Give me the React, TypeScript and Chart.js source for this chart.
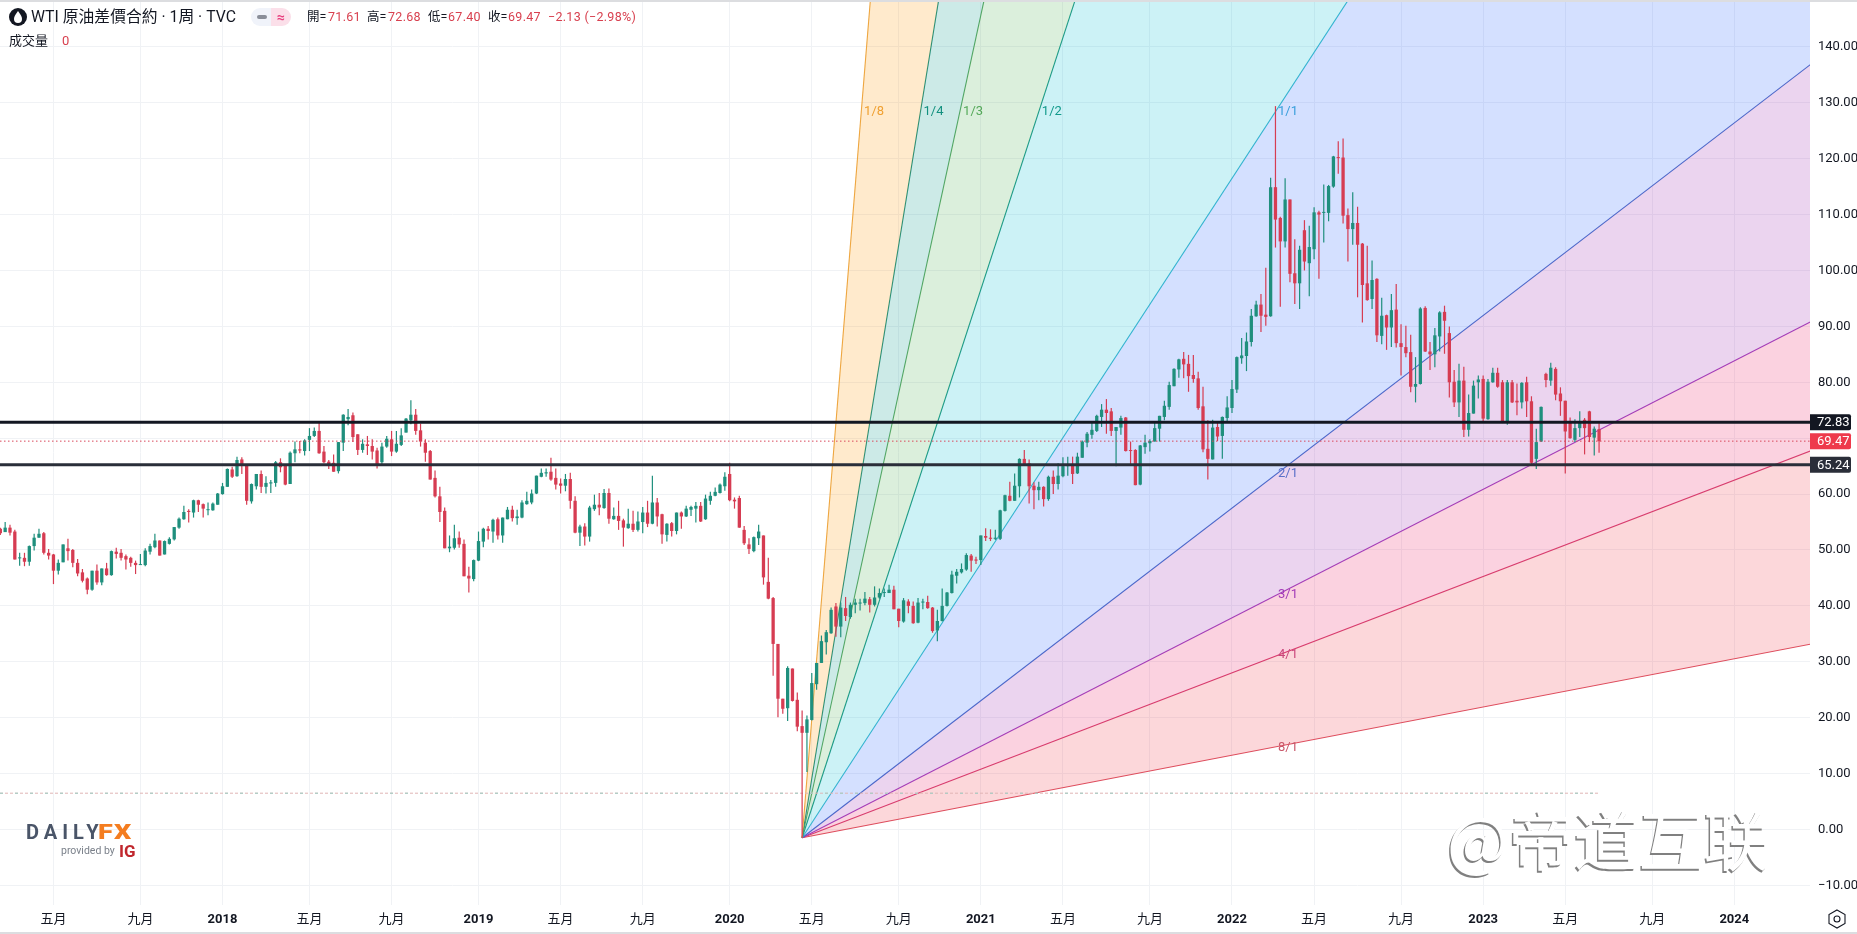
import React, { useEffect, useRef } from "react";
import { Chart, registerables } from "chart.js";

Chart.register(...registerables);

const weekOpen = [
53.8,53.2,54.0,53.3,48.5,48.6,47.9,50.7,52.2,53.0,
49.5,49.2,46.3,47.8,50.3,50.0,47.7,46.0,44.9,42.9,
46.3,44.2,46.7,45.5,49.7,49.5,48.9,48.6,47.7,47.3,
47.3,49.7,50.5,51.7,49.2,51.1,51.9,54.0,55.5,57.0,
56.7,58.9,58.2,57.3,57.1,58.1,60.0,61.3,64.4,63.2,
66.2,65.2,58.7,61.4,63.6,61.3,61.9,62.0,65.7,65.1,
61.8,67.3,68.0,67.7,69.7,70.4,71.3,67.6,65.8,65.6,
64.1,69.2,73.4,74.1,70.7,67.9,68.9,68.6,67.8,65.7,
68.5,69.8,67.6,68.8,71.0,73.2,74.2,71.4,69.2,67.7,
62.9,59.6,57.0,50.3,50.4,52.2,51.1,45.4,44.8,48.1,
51.5,53.8,53.3,55.5,52.6,55.5,57.2,55.7,55.8,58.2,
58.5,60.1,63.1,63.7,64.0,62.9,61.9,61.5,62.7,58.8,
53.1,54.2,52.4,57.3,58.1,57.5,60.2,55.5,56.1,55.3,
53.9,54.7,53.6,55.0,56.7,54.7,58.5,56.4,52.7,54.8,
53.4,56.7,56.0,57.2,57.4,57.9,55.5,58.8,59.7,60.2,
61.4,63.6,59.0,59.3,53.6,51.0,49.8,52.1,52.6,44.3,
41.4,33.2,23.4,21.7,28.8,23.2,18.5,17.3,19.6,26.0,
29.8,33.5,35.1,39.9,36.3,39.6,38.0,40.2,40.6,40.5,
41.2,40.2,41.5,42.3,42.3,42.9,39.5,37.2,40.8,40.0,
37.0,40.6,40.7,39.7,35.6,37.3,40.0,42.3,45.4,46.0,
46.5,49.0,48.3,48.2,52.5,52.2,52.0,52.0,57.0,59.7,
58.8,61.4,66.3,65.5,61.5,60.7,61.3,59.1,63.1,61.8,
63.2,65.0,65.4,63.7,66.5,69.2,70.6,71.3,73.8,75.1,
74.8,71.3,71.9,73.7,67.8,67.9,61.7,68.4,69.1,69.4,
71.7,73.8,75.6,79.3,82.3,84.2,83.3,81.3,80.7,75.7,
68.1,66.2,72.0,70.4,73.6,75.4,78.7,84.3,84.7,87.2,
91.8,93.9,92.1,91.8,114.9,109.4,105.2,112.7,99.5,97.7,
107.2,101.3,103.8,110.4,110.3,110.3,115.0,120.2,120.2,109.9,
107.4,108.5,104.8,97.7,94.9,98.5,88.3,92.0,89.8,93.0,
87.0,86.3,85.4,79.2,79.7,93.3,85.5,85.0,88.2,92.6,
88.8,80.1,76.4,80.3,71.5,74.4,80.0,80.6,73.4,80.0,
81.7,80.0,73.0,80.0,76.7,76.4,80.0,76.6,66.3,69.4,
81.5,80.3,82.4,78.0,76.7,73.0,69.7,71.8,73.3,74.8,70.1,71.61,
];

const weekHigh = [
54.0,55.0,54.5,53.6,49.5,49.5,50.8,52.9,53.8,53.2,
50.2,49.3,48.3,51.0,52.0,50.2,48.4,46.6,45.1,46.3,
47.4,46.7,47.7,49.9,50.4,50.2,49.2,48.8,48.1,49.3,
50.3,51.1,52.9,51.7,51.7,52.3,54.1,55.8,57.9,57.3,
59.0,59.0,58.3,58.5,58.5,60.2,62.0,64.6,64.9,66.7,
66.6,65.4,61.9,63.6,64.2,63.2,62.5,65.9,66.4,65.4,
67.6,69.4,69.5,69.8,71.8,71.9,72.9,68.6,66.1,67.1,
69.3,74.3,75.2,74.6,70.7,69.8,70.4,69.8,68.3,69.2,
70.4,71.3,71.3,71.8,73.6,76.8,75.2,72.6,69.8,67.9,
64.2,61.3,57.6,52.6,54.5,53.3,51.9,47.0,48.3,53.3,
54.0,54.3,55.6,55.8,55.8,57.7,57.9,57.2,58.9,60.4,
60.8,63.3,64.6,64.6,66.5,64.6,62.8,63.6,63.8,59.6,
54.5,54.8,57.9,59.9,60.2,60.9,61.0,57.6,58.8,55.6,
57.4,57.0,56.9,57.7,58.8,63.3,59.3,56.5,54.8,55.0,
56.7,56.9,57.9,57.9,58.6,58.6,59.9,60.4,61.2,61.9,
63.9,65.6,59.4,59.7,54.3,52.1,52.4,54.5,52.6,48.6,
41.6,33.2,23.4,29.2,28.8,24.5,21.3,20.4,28.0,29.8,
34.7,35.7,39.7,40.5,40.6,41.6,40.6,41.3,41.3,42.5,
41.6,43.5,43.1,43.1,43.8,43.6,39.5,41.4,41.2,40.8,
41.4,41.3,41.8,39.8,39.3,43.1,42.5,46.3,46.6,47.6,
49.4,49.3,48.8,52.6,53.9,53.7,53.6,57.2,59.9,62.2,
63.7,66.4,67.9,66.2,62.1,62.2,61.4,63.3,64.2,65.5,
66.6,66.7,66.7,67.4,69.6,71.1,72.8,74.2,76.1,77.0,
75.4,72.0,74.0,73.8,69.4,68.0,68.8,70.6,69.8,73.0,
74.0,76.7,80.1,82.5,84.2,85.4,84.9,84.9,81.9,79.2,
73.2,73.3,72.9,73.9,77.5,80.4,84.6,87.9,88.9,93.1,
94.6,95.8,100.5,116.6,129.4,109.6,116.5,112.7,105.6,104.4,
109.0,108.0,111.3,110.7,115.4,115.3,120.5,123.1,123.6,111.1,
114.0,111.4,104.9,104.4,101.8,98.6,95.1,92.1,95.8,97.6,
90.4,90.1,88.5,84.5,93.4,93.6,87.2,89.7,92.7,93.7,
90.0,82.2,83.3,82.8,77.8,80.3,81.2,81.2,80.6,82.6,
82.6,80.4,80.4,80.4,79.8,80.0,81.0,77.5,71.7,75.65,
81.7,83.5,82.7,79.1,76.7,73.7,73.4,74.8,73.6,74.9,72.1,72.68,
];

const weekLow = [
52.7,53.2,52.6,48.3,47.2,47.1,47.2,49.9,52.2,49.2,
48.3,43.9,45.6,47.8,48.1,46.9,45.3,44.2,42.1,42.7,
43.8,43.7,45.4,45.4,48.5,48.1,46.5,47.0,45.7,47.3,
47.1,49.2,50.3,49.0,49.2,51.0,51.7,53.8,55.4,54.9,
55.8,56.8,55.8,56.2,57.0,58.1,59.9,61.3,62.9,63.1,
63.6,58.1,58.3,60.8,60.2,60.1,60.2,61.3,63.9,61.6,
61.8,65.7,67.3,66.9,67.7,70.2,67.2,65.5,64.5,64.0,
63.7,67.7,72.3,69.3,67.0,67.4,67.0,66.2,64.6,65.4,
68.3,66.8,67.4,68.6,71.0,72.5,70.6,68.5,65.8,62.6,
59.4,55.0,50.3,49.6,50.1,50.4,45.3,42.4,44.4,48.0,
50.5,51.9,51.3,51.9,51.3,55.5,55.1,54.5,55.7,58.1,
58.2,60.0,63.0,63.1,62.4,60.8,60.1,60.5,57.4,53.0,
50.7,50.8,51.5,57.0,56.2,57.4,54.7,55.4,53.6,50.6,
53.8,53.2,53.3,53.0,54.1,54.6,54.2,51.1,51.5,52.4,
52.8,53.8,55.9,56.1,54.9,55.0,55.4,58.1,59.6,60.1,
60.6,58.7,57.4,54.0,50.9,49.3,49.6,50.9,43.8,41.2,
27.5,20.1,20.7,19.4,22.9,17.6,-1.47,10.3,19.5,25.0,
29.8,31.3,35.0,34.5,34.4,37.3,37.7,38.7,39.2,40.1,
38.8,39.9,41.3,41.6,42.3,39.4,36.2,37.0,38.7,36.8,
36.9,39.4,39.5,35.2,33.7,37.2,39.9,42.2,44.0,45.8,
46.3,46.1,47.5,47.3,51.6,51.6,51.8,51.8,56.9,58.7,
58.8,59.4,65.1,58.3,57.3,58.9,57.8,58.8,60.0,60.8,
63.0,63.3,61.8,63.6,66.5,68.4,69.9,71.1,72.0,70.8,
70.4,65.0,70.6,67.6,65.2,61.6,61.6,67.2,67.6,69.4,
69.4,73.2,75.1,79.3,80.8,80.7,78.3,79.9,75.1,67.5,
62.6,66.2,69.5,66.3,72.9,74.5,78.1,83.3,82.0,86.4,
91.7,89.0,90.1,91.7,104.1,93.5,104.1,97.9,94.0,93.1,
100.0,95.4,102.0,98.5,105.0,108.8,114.8,117.3,108.4,101.6,
104.6,95.2,90.7,94.6,93.1,87.2,86.8,85.8,86.3,86.2,
81.2,84.5,78.2,76.4,79.6,85.4,82.2,82.7,85.5,85.1,
77.3,75.6,73.8,70.2,70.3,74.4,77.1,72.7,73.3,79.9,
79.0,72.7,72.4,76.3,74.1,75.3,73.8,65.3,64.5,69.3,
79.1,79.4,76.8,74.0,63.7,69.9,69.3,70.2,67.1,69.3,66.9,67.40,
];

const weekClose = [
53.0,54.0,53.1,48.3,48.6,47.9,50.7,52.2,52.9,49.5,
49.0,46.3,47.7,51.0,49.8,47.7,45.8,44.5,42.9,46.3,
44.2,46.7,45.5,49.8,49.3,48.6,48.3,47.7,47.3,47.4,
49.9,50.7,51.7,49.0,51.6,52.0,54.1,55.6,56.8,56.8,
58.9,58.1,57.4,57.3,58.3,60.1,61.4,64.5,63.1,66.1,
65.2,58.8,61.8,63.6,61.3,62.0,62.1,65.7,64.8,61.7,
67.4,68.0,67.8,69.6,70.4,71.3,67.3,65.7,65.1,64.0,
69.3,74.2,73.8,70.2,67.9,69.0,68.6,67.6,65.2,68.5,
69.9,67.6,69.0,70.5,73.5,74.2,71.3,69.4,67.4,62.6,
59.6,56.8,50.3,50.6,52.1,51.0,45.3,44.9,48.2,51.6,
53.8,53.4,55.4,52.6,55.8,57.2,55.7,56.0,58.5,58.8,
60.1,63.3,63.8,63.9,62.6,61.7,61.5,62.7,58.8,53.1,
54.2,52.4,57.6,58.1,57.6,60.2,55.6,56.1,55.2,54.0,
54.7,53.6,55.1,56.7,54.7,58.5,56.0,52.8,54.7,53.4,
56.7,56.0,57.4,57.7,57.9,55.1,59.2,59.7,60.4,61.7,
63.1,58.9,58.7,54.0,51.2,50.2,52.3,53.3,45.1,41.3,
33.2,23.4,21.6,28.9,23.0,18.4,17.3,19.7,26.2,29.8,
33.7,35.3,39.3,36.3,39.7,38.2,40.2,40.6,40.6,41.3,
40.2,41.5,42.3,42.4,42.9,39.4,37.3,41.0,40.0,36.9,
40.6,40.7,39.6,35.5,37.3,40.0,42.4,45.6,46.1,46.6,
49.1,48.1,48.1,52.6,52.2,52.0,52.2,57.1,59.8,58.8,
61.5,66.3,65.2,61.4,60.7,61.3,59.1,63.1,61.8,63.3,
65.0,65.2,63.6,66.7,69.4,70.8,71.5,74.0,75.1,74.5,
71.3,72.0,73.6,67.7,67.7,61.6,68.7,69.2,69.5,71.8,
74.0,75.8,79.5,82.4,84.1,83.2,81.1,80.6,75.4,68.0,
66.3,71.9,70.3,73.8,75.5,78.8,84.5,84.8,87.3,91.9,
93.9,91.9,91.7,114.9,109.1,105.2,112.7,99.4,97.7,103.7,
101.6,104.2,110.4,110.0,110.4,115.1,120.4,120.1,109.8,107.4,
108.5,104.6,97.4,94.7,98.3,88.4,91.9,89.8,92.9,87.0,
86.3,85.2,79.2,79.7,93.2,85.5,85.0,88.4,92.5,91.0,
80.0,76.4,80.3,71.5,74.5,79.4,80.5,73.5,80.1,81.7,
79.2,72.9,80.0,76.4,76.4,79.9,76.6,65.6,69.3,75.6,
80.4,82.6,77.8,76.6,71.2,70.0,71.8,72.9,71.8,70.2,71.7,69.47,
];

const timeTickWeeks = [11, 29, 46, 64, 81, 99, 116, 133, 151, 168, 186, 203, 220, 238, 255, 272, 290, 307, 324, 342, 359];
const timeTickLabels = ["五月", "九月", "2018", "五月", "九月", "2019", "五月", "九月", "2020", "五月", "九月", "2021", "五月", "九月", "2022", "五月", "九月", "2023", "五月", "九月", "2024"];
const priceTicks = [-10, 0, 10, 20, 30, 40, 50, 60, 70, 80, 90, 100, 110, 120, 130, 140];
const priceTicksHiddenLabel = [70];

const weekMin = -0.068;
const weekMax = 374.67;
const priceMin = -13.5;
const priceMax = 148.38;

const fanOriginWeek = 166;
const fanOriginPrice = -1.47;
const fanEndWeek = 375;
const fanNames = ["1/8", "1/4", "1/3", "1/2", "1/1", "2/1", "3/1", "4/1", "8/1"];
const fanEndPrices = [2214.5, 1106.6, 829.6, 552.5, 275.5, 137.0, 90.9, 67.8, 33.2];
const fanLineColors = ["#eea63f", "#1b8f7e", "#5aa860", "#1a9a8d", "#38b2cf", "#5068c4", "#a640b8", "#d6406f", "#dc5060"];
const fanFillColors = ["rgba(255,152,0,0.2)", "rgba(0,150,136,0.2)", "rgba(76,175,80,0.2)", "rgba(0,188,212,0.2)", "rgba(41,98,255,0.2)", "rgba(156,39,176,0.2)", "rgba(233,30,99,0.2)", "rgba(242,54,69,0.2)"];
const fanLabelColors = ["#f0a030", "#12907f", "#55a95a", "#129a8c", "#3a9fdc", "#5b6fc8", "#a33bb8", "#c9487c", "#c9586a"];
const fanLabelWeeks = [180.9, 193.2, 201.4, 217.7, 266.6, 266.6, 266.6, 266.6, 266.6];
const fanLabelPrices = [128.4, 128.4, 128.4, 128.4, 128.4, 63.6, 42.0, 31.2, 14.6];

const levelUpper = 72.83;
const levelLower = 65.24;
const lastPrice = 69.47;
const volumeLinePrice = 6.5;
const volumeLineEndWeek = 331;

const priceTags = [
  { value: levelUpper, color: "#131722" },
  { value: lastPrice, color: "#ee3a4c" },
  { value: levelLower, color: "#2a2e39" },
];

const UP = "#1f8f7d";
const DOWN = "#d63c52";
const FONT = 'Roboto, "Noto Sans CJK TC", sans-serif';

const tagsPlugin = {
  id: "fanAndTags",
  afterDatasetsDraw(chart: any) {
    const { ctx, scales } = chart;
    ctx.save();
    ctx.font = `13px ${FONT}`;
    ctx.textAlign = "center";
    ctx.textBaseline = "middle";
    fanNames.forEach((name, i) => {
      ctx.fillStyle = fanLabelColors[i];
      ctx.fillText(name, scales.x.getPixelForValue(fanLabelWeeks[i]), scales.y.getPixelForValue(fanLabelPrices[i]));
    });
    ctx.restore();
  },
  afterDraw(chart: any) {
    const { ctx, scales, chartArea } = chart;
    ctx.save();
    priceTags.forEach((tag) => {
      const y = scales.y.getPixelForValue(tag.value);
      ctx.fillStyle = tag.color;
      ctx.beginPath();
      ctx.roundRect(chartArea.right, y - 8, 41, 16, [0, 2, 2, 0]);
      ctx.fill();
      ctx.fillStyle = "#ffffff";
      ctx.font = `13px ${FONT}`;
      ctx.textAlign = "left";
      ctx.textBaseline = "middle";
      ctx.fillText(tag.value.toFixed(2), chartArea.right + 7, y + 0.5);
    });
    ctx.restore();
  },
};

function flat(week0: number, week1: number, value: number) {
  return [
    { x: week0, y: value },
    { x: week1, y: value },
  ];
}

const abs = (style: React.CSSProperties): React.CSSProperties => ({ position: "absolute", whiteSpace: "nowrap", ...style });

export default function App() {
  const ref = useRef<HTMLCanvasElement>(null);

  useEffect(() => {
    document.body.style.margin = "0";
    document.body.style.background = "#ffffff";
    document.body.style.overflow = "hidden";
    const colors = weekClose.map((c, i) => (c >= weekOpen[i] ? UP : DOWN));

    const fanDatasets = fanNames.map((name, i) => ({
      type: "line" as const,
      label: name,
      data: [
        { x: fanOriginWeek, y: fanOriginPrice },
        { x: fanEndWeek, y: fanEndPrices[i] },
      ],
      borderColor: fanLineColors[i],
      borderWidth: 1.1,
      pointRadius: 0,
      tension: 0,
      fill: i < fanNames.length - 1 ? "+1" : false,
      backgroundColor: fanFillColors[i] ?? "transparent",
      order: 7,
    }));

    const chart = new Chart(ref.current!, {
      type: "bar",
      data: {
        datasets: [
          ...fanDatasets,
          {
            type: "bar",
            label: "wick",
            data: weekLow.map((l, i) => ({ x: i, y: [l, weekHigh[i]] })),
            backgroundColor: colors,
            barThickness: 1.2,
            grouped: false,
            inflateAmount: 0,
            order: 4,
          },
          {
            type: "bar",
            label: "body",
            data: weekOpen.map((o, i) => ({ x: i, y: [o, weekClose[i]] })),
            backgroundColor: colors,
            barThickness: 3.3,
            grouped: false,
            minBarLength: 1,
            inflateAmount: 0,
            order: 3,
          },
          {
            type: "line",
            label: "volume-a",
            data: flat(weekMin, volumeLineEndWeek, volumeLinePrice),
            borderColor: "#e0b4b4",
            borderWidth: 1,
            borderDash: [3, 2],
            pointRadius: 0,
            order: 6,
          },
          {
            type: "line",
            label: "volume-b",
            data: flat(weekMin, volumeLineEndWeek, volumeLinePrice),
            borderColor: "#9ccfc6",
            borderWidth: 1,
            borderDash: [3, 12],
            pointRadius: 0,
            order: 5,
          },
          {
            type: "line",
            label: "last",
            data: flat(weekMin, weekMax, lastPrice),
            borderColor: "#d9485a",
            borderWidth: 1,
            borderDash: [1.5, 2.5],
            pointRadius: 0,
            order: 1,
          },
          {
            type: "line",
            label: "upper",
            data: flat(weekMin, weekMax, levelUpper),
            borderColor: "#131722",
            borderWidth: 3,
            pointRadius: 0,
            order: 0,
          },
          {
            type: "line",
            label: "lower",
            data: flat(weekMin, weekMax, levelLower),
            borderColor: "#2a2e39",
            borderWidth: 3,
            pointRadius: 0,
            order: 0,
          },
        ] as any,
      },
      options: {
        responsive: false,
        animation: false,
        events: [],
        layout: { padding: 0 },
        plugins: {
          legend: { display: false },
          tooltip: { enabled: false },
          filler: { drawTime: "beforeDatasetDraw" },
        } as any,
        scales: {
          x: {
            type: "linear",
            min: weekMin,
            max: weekMax,
            offset: false,
            border: { display: false },
            grid: { color: "#f0f2f5", lineWidth: 1, offset: false, drawTicks: false },
            afterBuildTicks: (s: any) => {
              s.ticks = timeTickWeeks.map((v) => ({ value: v }));
            },
            afterFit: (s: any) => {
              s.height = 29;
              s.paddingLeft = 0;
              s.paddingRight = 0;
            },
            ticks: {
              autoSkip: false,
              maxRotation: 0,
              padding: 7,
              color: "#131722",
              font: (c: any) => {
                const idx = c.tick ? timeTickWeeks.indexOf(c.tick.value) : -1;
                const year = idx >= 0 && /^\d/.test(timeTickLabels[idx]);
                return { family: FONT, size: 13, weight: year ? "bold" : "normal" };
              },
              callback: (v: any) => timeTickLabels[timeTickWeeks.indexOf(Number(v))] ?? "",
            },
          } as any,
          y: {
            type: "linear",
            position: "right",
            min: priceMin,
            max: priceMax,
            border: { display: false },
            grid: { color: "#f0f2f5", lineWidth: 1, drawTicks: false },
            afterBuildTicks: (s: any) => {
              s.ticks = priceTicks.map((v) => ({ value: v }));
            },
            afterFit: (s: any) => {
              s.width = 47;
              s.paddingTop = 0;
              s.paddingBottom = 0;
            },
            ticks: {
              autoSkip: false,
              padding: 8,
              color: "#131722",
              font: { family: FONT, size: 13 },
              callback: (v: any) => {
                const n = Number(v);
                if (priceTicksHiddenLabel.includes(n)) return "";
                return (n < 0 ? "\u2212" : "") + Math.abs(n).toFixed(2);
              },
            },
          } as any,
        },
      },
      plugins: [tagsPlugin as any],
    });
    return () => chart.destroy();
  }, []);

  const red = "#d8404f";
  const black = "#131722";
  const small: React.CSSProperties = { fontSize: 12.5, lineHeight: "16px", fontFamily: FONT, top: 9 };

  return (
    <div style={{ position: "absolute", left: 0, top: 0, width: 1857, height: 934, overflow: "hidden", background: "#fff" }}>
      <canvas ref={ref} width={1857} height={934} style={{ position: "absolute", left: 0, top: 0, width: 1857, height: 934 }} />

      <div style={abs({ left: 0, top: 0, width: 1857, height: 2, background: "#dcdde0" })} />
      <div style={abs({ left: 0, top: 932, width: 1857, height: 2, background: "#dcdde0" })} />

      <svg width="20" height="20" style={{ position: "absolute", left: 8, top: 7 }}>
        <circle cx="10" cy="10" r="9" fill="#131722" />
        <path d="M10 4 C 7 8, 6 10, 6 12 A 4 4 0 0 0 14 12 C 14 10, 13 8, 10 4 Z" fill="#fff" />
      </svg>
      <div style={abs({ left: 31, top: 7, fontSize: 15.8, lineHeight: "20px", fontFamily: FONT, color: black })}>WTI 原油差價合約 · 1周 · TVC</div>

      <div style={abs({ left: 251, top: 8, width: 20, height: 18, background: "#f0f3fa", borderRadius: "9px 0 0 9px" })} />
      <div style={abs({ left: 271, top: 8, width: 20, height: 18, background: "#fbdfe9", borderRadius: "0 9px 9px 0" })} />
      <div style={abs({ left: 257, top: 15, width: 10, height: 4, borderRadius: 2, background: "#8a8e99" })} />
      <div style={abs({ left: 271, top: 8, width: 20, textAlign: "center", fontSize: 14, lineHeight: "18px", fontWeight: 700, fontFamily: FONT, color: "#e8407f" })}>≈</div>

      <div style={abs({ ...small, left: 307, color: black })}>開=</div>
      <div style={abs({ ...small, left: 328, color: red, letterSpacing: 0.3 })}>71.61</div>
      <div style={abs({ ...small, left: 367, color: black })}>高=</div>
      <div style={abs({ ...small, left: 388, color: red, letterSpacing: 0.3 })}>72.68</div>
      <div style={abs({ ...small, left: 428, color: black })}>低=</div>
      <div style={abs({ ...small, left: 448, color: red, letterSpacing: 0.3 })}>67.40</div>
      <div style={abs({ ...small, left: 488, color: black })}>收=</div>
      <div style={abs({ ...small, left: 508, color: red, letterSpacing: 0.3 })}>69.47</div>
      <div style={abs({ ...small, left: 548, color: red, letterSpacing: 0.3 })}>−2.13 (−2.98%)</div>

      <div style={abs({ left: 9, top: 33, fontSize: 13, lineHeight: "16px", fontFamily: FONT, color: black })}>成交量</div>
      <div style={abs({ left: 62, top: 33, fontSize: 13, lineHeight: "16px", fontFamily: FONT, color: red })}>0</div>

      <div style={abs({ left: 26, top: 821, fontSize: 20, lineHeight: "22px", fontWeight: 700, fontFamily: FONT, letterSpacing: 5, color: "#4a5568" })}>DAILY</div>
      <div style={abs({ left: 98, top: 821, fontSize: 20, lineHeight: "22px", fontWeight: 900, fontFamily: FONT, letterSpacing: 1, color: "#f47d20", transform: "scaleX(1.35)", transformOrigin: "left center" })}>FX</div>
      <div style={abs({ left: 61, top: 844, fontSize: 10.5, lineHeight: "14px", fontFamily: FONT, color: "#7a808a" })}>provided by</div>
      <div style={abs({ left: 119, top: 842, fontSize: 17, lineHeight: "18px", fontWeight: 700, fontFamily: FONT, color: "#c0272d" })}>IG</div>

      <div style={abs({ left: 1447, top: 792, fontSize: 65, lineHeight: "90px", fontFamily: '"Noto Sans CJK SC", sans-serif', fontWeight: 400, color: "#ffffff", textShadow: "-1.5px 1.5px 0 #808080" })}>@帝道互联</div>

      <svg width="22" height="22" style={{ position: "absolute", left: 1826, top: 908 }}>
        <path d="M11 2 L19 6.5 L19 15.5 L11 20 L3 15.5 L3 6.5 Z" fill="none" stroke="#131722" strokeWidth="1.1" />
        <circle cx="11" cy="11" r="3" fill="none" stroke="#131722" strokeWidth="1.1" />
      </svg>
    </div>
  );
}
